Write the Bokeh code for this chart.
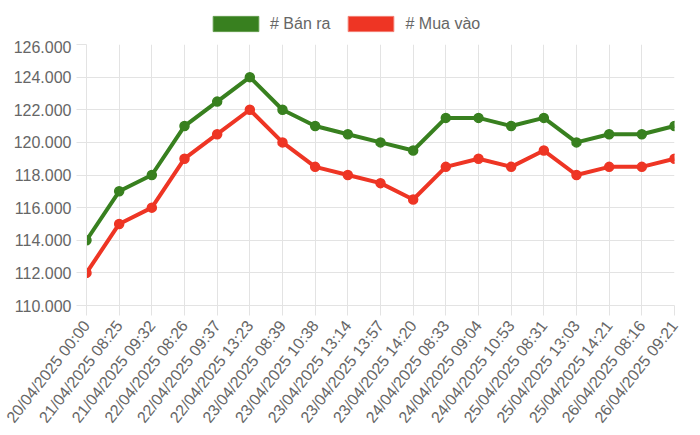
import math
from bokeh.plotting import figure
from bokeh.layouts import column
from bokeh.models import Range1d, FixedTicker, Legend, LegendItem, ColumnDataSource
from bokeh.embed import file_html
from bokeh.resources import INLINE

labels = ["20/04/2025 00:00", "21/04/2025 08:25", "21/04/2025 09:32", "22/04/2025 08:26",
          "22/04/2025 09:37", "22/04/2025 13:23", "23/04/2025 08:39", "23/04/2025 10:38",
          "23/04/2025 13:14", "23/04/2025 13:57", "23/04/2025 14:20", "24/04/2025 08:33",
          "24/04/2025 09:04", "24/04/2025 10:53", "25/04/2025 08:31", "25/04/2025 13:03",
          "25/04/2025 14:21", "26/04/2025 08:16", "26/04/2025 09:21"]
ban_ra = [114000, 117000, 118000, 121000, 122500, 124000, 122000, 121000, 120500, 120000,
          119500, 121500, 121500, 121000, 121500, 120000, 120500, 120500, 121000]
mua_vao = [112000, 115000, 116000, 119000, 120500, 122000, 120000, 118500, 118000, 117500,
           116500, 118500, 119000, 118500, 119500, 118000, 118500, 118500, 119000]
y_ticks = [110000, 112000, 114000, 116000, 118000, 120000, 122000, 124000, 126000]
series_names = ["# Bán ra", "# Mua vào"]

GREEN = "#38801f"
RED = "#ee3524"
GRID = "#e3e3e3"
FONT = "Liberation Sans"
W = 700
H = 434
LEG_H = 40
LEFT = 86
RIGHT = W - 674
FRAME_TOP = 44
FRAME_BOTTOM = 305

xs = list(range(len(labels)))
src = ColumnDataSource(dict(x=xs, ban=ban_ra, mua=mua_vao))

# ---- legend strip on top ----
lf = figure(width=W, height=LEG_H, output_backend="svg", toolbar_location=None,
            x_range=Range1d(0, 1), y_range=Range1d(0, 1),
            min_border_left=LEFT, min_border_right=RIGHT, min_border_top=0, min_border_bottom=0)
lf.axis.visible = False
lf.grid.visible = False
lf.outline_line_color = None
# swatch renderers: one hidden point each, outside the visible range
sw = ColumnDataSource(dict(x=[-5], y=[-5]))
b1 = lf.rect("x", "y", width=1, height=1, source=sw, fill_color=GREEN, line_color="#5e9a48")
b2 = lf.rect("x", "y", width=1, height=1, source=sw, fill_color=RED, line_color="#f27a6e")
legend = Legend(items=[LegendItem(label=series_names[0], renderers=[b1]),
                       LegendItem(label=series_names[1], renderers=[b2])],
                orientation="horizontal", location=(207 - LEFT, LEG_H - 33),
                glyph_width=57, glyph_height=19, label_text_font=FONT,
                label_text_font_size="16px", label_text_color="#666666",
                border_line_color=None, padding=0, spacing=12, margin=0,
                label_standoff=6, background_fill_alpha=0, label_height=19)
lf.add_layout(legend)

# ---- main chart ----
p = figure(width=W, height=H - LEG_H, output_backend="svg", toolbar_location=None,
           x_range=Range1d(0, len(labels) - 1), y_range=Range1d(110000, 126000),
           min_border_left=LEFT, min_border_right=RIGHT, min_border_top=FRAME_TOP - LEG_H,
           min_border_bottom=H - FRAME_BOTTOM)
p.outline_line_color = None

p.xaxis.ticker = FixedTicker(ticks=xs)
p.xaxis.major_label_overrides = {i: l for i, l in zip(xs, labels)}
p.xaxis.major_label_orientation = math.radians(52)
p.yaxis.ticker = FixedTicker(ticks=y_ticks)
p.yaxis.major_label_overrides = {v: f"{v:,}".replace(",", ".") for v in y_ticks}

for ax in (p.xaxis, p.yaxis):
    ax.axis_line_color = GRID
    ax.major_tick_line_color = GRID
    ax.major_tick_out = 10
    ax.major_tick_in = 0
    ax.minor_tick_line_color = None
    ax.major_label_text_font = FONT
    ax.major_label_text_color = "#666666"
    ax.major_label_text_font_size = "16px"
p.yaxis.major_label_standoff = 5
p.xaxis.major_label_standoff = 7
p.xgrid.grid_line_color = GRID
p.ygrid.grid_line_color = GRID

p.line("x", "ban", source=src, line_color=GREEN, line_width=4)
p.scatter("x", "ban", source=src, size=9, fill_color=GREEN, line_color=GREEN, line_width=1.5)
p.line("x", "mua", source=src, line_color=RED, line_width=4)
p.scatter("x", "mua", source=src, size=9, fill_color=RED, line_color=RED, line_width=1.5)

layout = column(lf, p, spacing=0)
open("out.html", "w").write(file_html(layout, INLINE))
